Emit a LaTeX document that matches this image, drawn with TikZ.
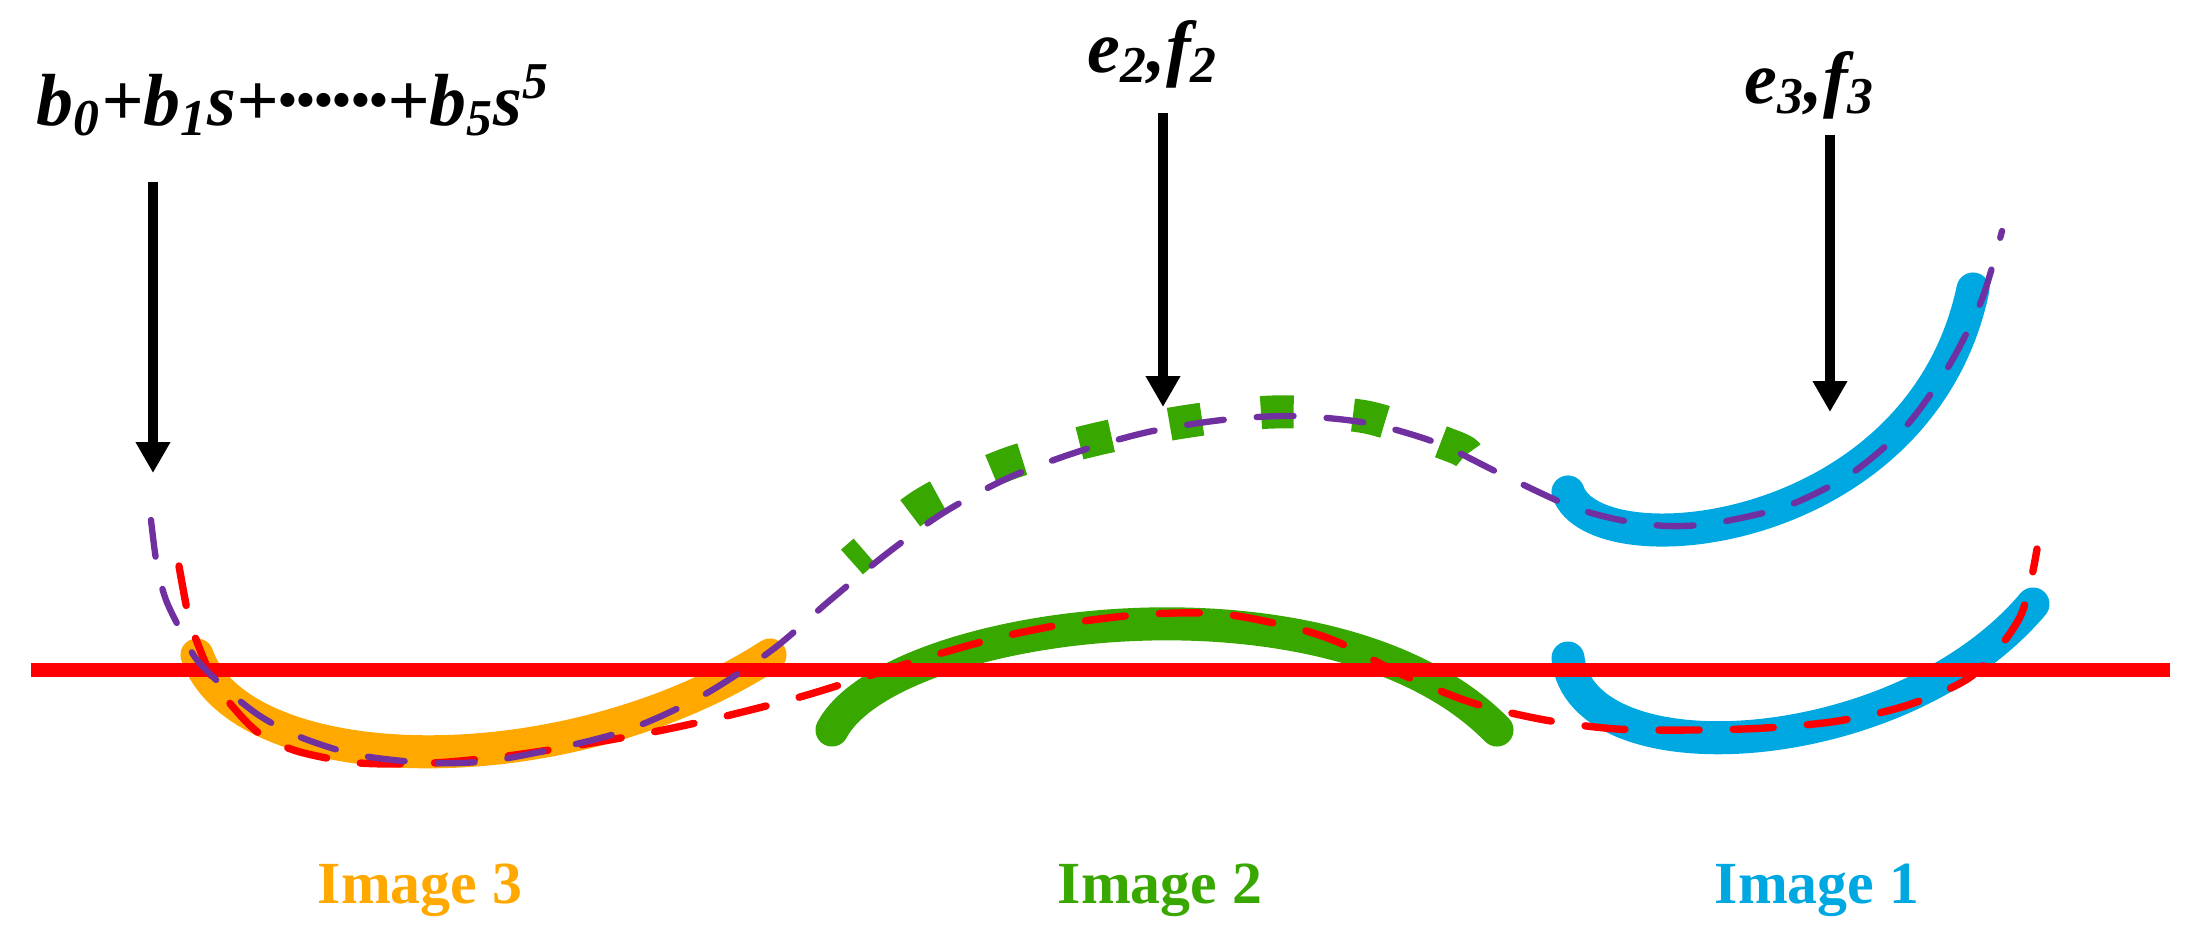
\documentclass[tikz,border=0pt]{standalone}
\usepackage{fontspec}
\usepackage{graphicx}
\setmainfont{Liberation Serif}
\usetikzlibrary{arrows.meta}
\definecolor{corange}{RGB}{255,168,0}
\definecolor{cgreen}{RGB}{56,168,0}
\definecolor{cblue}{RGB}{0,168,226}
\definecolor{cpurple}{RGB}{112,48,160}
\definecolor{cred}{RGB}{255,0,0}
\newcommand{\bdot}{\raisebox{0.1em}{\scalebox{0.7}{\textbullet}}}
\tikzset{
  band/.style={line width=9.4pt, line cap=round},
  arr/.style={line width=3.1pt, -{Triangle[width=9.3pt,length=8.8pt]}},
  purpdash/.style={cpurple, line width=1.8pt, line cap=round, dash pattern=on 10.5pt off 9.4pt},
  reddash/.style={cred, line width=2.1pt, line cap=round, dash pattern=on 11.4pt off 9.7pt},
  greendash/.style={cgreen, line width=9.4pt, dash pattern=on 9.3pt off 16.9pt, dash phase=4.6pt},
  formula/.style={font=\fontsize{21}{25}\selectfont\bfseries\itshape, inner sep=0pt},
  imglabel/.style={font=\fontsize{17}{20}\selectfont\bfseries, inner sep=0pt, anchor=base}
}
\begin{document}
\begin{tikzpicture}[x=0.01cm, y=-0.01cm]
\useasboundingbox (0,0) rectangle (2199,936);
% thick bands
\draw[band, corange] (197,655) .. controls (240,778) and (560,790) .. (770,655);
\draw[band, cgreen] (832,730) .. controls (890,620) and (1330,560) .. (1497,730);
\draw[band, cblue] (1568,492) .. controls (1595,570) and (1920,540) .. (1973,289);
\draw[band, cblue] (1568,658) .. controls (1580,780) and (1900,762) .. (2033,604);
% green dashed (upper)
\draw[greendash] plot[smooth] coordinates {(852,562) (922,505) (1005,465) (1093,440) (1183,422) (1273,412) (1366,417) (1452,446) (1467,454)};
% red horizontal line
\coordinate (hl) at (31,670);
\coordinate (hr) at (2170,670);
\draw[cred, line width=3.9pt] (hl) -- (hr);
% red dashed curve
\draw[reddash] plot[smooth] coordinates {(179,566) (188,614) (197,642) (215,683) (240,715) (263,736) (300,752) (360,763) (433,763) (507,756) (580,745) (653,732) (722,717) (800,697) (865,677) (935,655) (1005,636) (1077,622) (1150,614) (1223,614) (1295,628) (1340,643) (1403,675) (1473,703) (1545,720) (1617,729) (1692,730) (1765,728) (1838,721) (1908,705) (1973,675) (2020,617) (2037,549)};
% purple dashed curve
\draw[purpdash] plot[smooth] coordinates {(151,520) (157,566) (166,600) (182,633) (197,660) (227,690) (260,716) (300,737) (358,755) (433,763) (503,759) (618,733) (700,697) (772,650) (828,602) (885,555) (943,513) (1008,478) (1077,452) (1148,432) (1222,420) (1293,416) (1367,423) (1437,443) (1503,475) (1570,506) (1620,520) (1668,526) (1715,523) (1787,506) (1852,473) (1907,425) (1950,364) (1982,299) (2002,231)};
% arrows
\coordinate (a1s) at (153,182); \coordinate (a1e) at (153,473);
\coordinate (a2s) at (1163,113); \coordinate (a2e) at (1163,407);
\coordinate (a3s) at (1830,135); \coordinate (a3e) at (1830,412);
\draw[arr] (a1s) -- (a1e);
\draw[arr] (a2s) -- (a2e);
\draw[arr] (a3s) -- (a3e);
% formulas
\node[formula, anchor=base west] (fb) at (36,125) {b\textsubscript{0}+b\textsubscript{1}s+\bdot\bdot\bdot\bdot\bdot\bdot+b\textsubscript{5}s\textsuperscript{5}};
\node[formula, anchor=base] (fe2) at (1153,72) {e\textsubscript{2},f\textsubscript{2}};
\node[formula, anchor=base] (fe3) at (1810,103) {e\textsubscript{3},f\textsubscript{3}};
% image labels
\node[imglabel, text=corange] (l3) at (420,903) {Image 3};
\node[imglabel, text=cgreen] (l2) at (1160,903) {Image 2};
\node[imglabel, text=cblue] (l1) at (1817,903) {Image 1};
\end{tikzpicture}
\end{document}
